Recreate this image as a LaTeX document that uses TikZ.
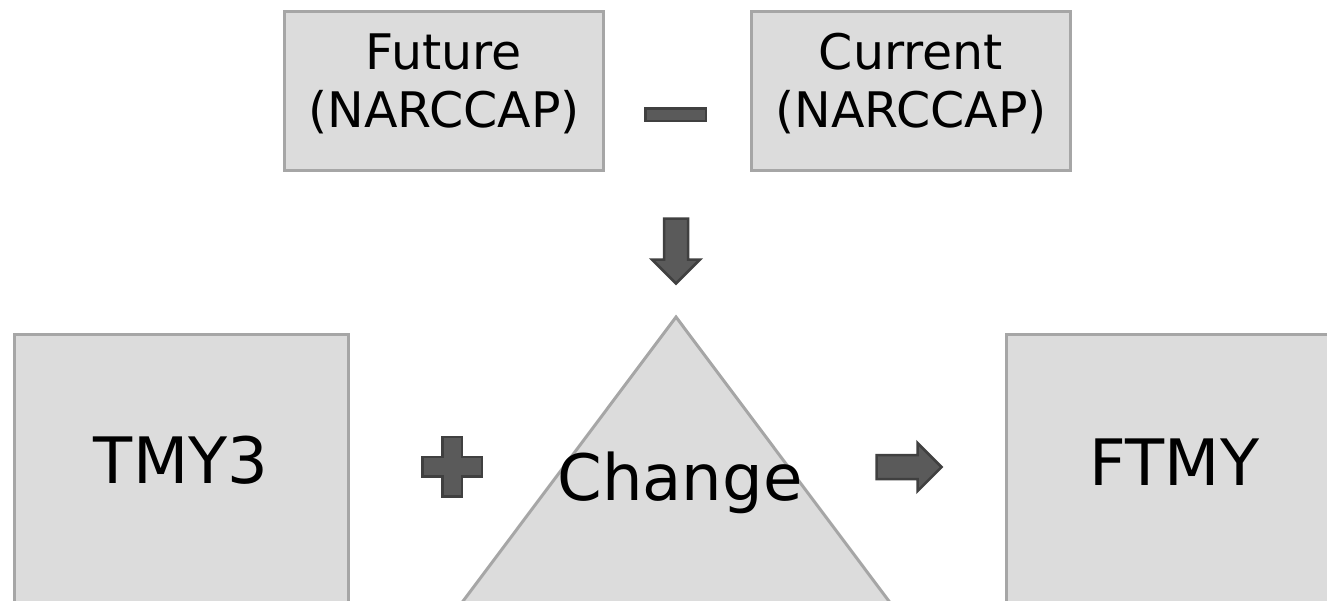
\documentclass[tikz,border=0pt]{standalone}
\usepackage{fontspec}
\setmainfont{DejaVu Sans}
\usepackage{xcolor}
\usepackage{tikz}
\usetikzlibrary{positioning,shapes.arrows}
\definecolor{boxfill}{HTML}{DCDCDC}
\definecolor{boxline}{HTML}{A6A6A6}
\definecolor{signfill}{HTML}{5A5A5A}
\definecolor{signline}{HTML}{404040}

\begin{document}
\begin{tikzpicture}[
  x=1pt,y=-1pt,
  box/.style={draw=boxline,fill=boxfill,line width=3pt,inner sep=0pt,align=center},
  smallbox/.style={box,minimum width=319pt,minimum height=159pt,text depth=21pt,
                   font=\fontsize{49}{58}\selectfont},
  bigbox/.style={box,anchor=north west,minimum height=600pt},
  bigtext/.style={anchor=base,inner sep=0pt,font=\fontsize{64}{76}\selectfont},
  sign/.style={draw=signline,fill=signfill,line width=2.5pt,inner sep=0pt},
  arrowsign/.style={sign,single arrow,inner xsep=0pt,inner ysep=10.75pt,
                    single arrow head extend=12pt,single arrow head indent=0pt,
                    minimum height=65pt}
]
\useasboundingbox (0,0) rectangle (1327,600);
\clip (0,0) rectangle (1327,600);

\node[smallbox] (future) at (444,91) {Future\\(NARCCAP)};
\node[smallbox,right=145pt of future] (current) {Current\\(NARCCAP)};
\node[sign,minimum width=60.5pt,minimum height=12.5pt] (minus) at (675.5,114.5) {};
\node[arrowsign,rotate=-90] (down) at (676,245) {};

\node[bigbox,minimum width=334pt] (tmybox) at (12.5,332.5) {};
\node[bigtext] (tmy) at (181,483) {TMY3};

\coordinate (plus) at (452,466.5);
\draw[sign] (plus) ++(-9.75,-29.75) -- ++(19.5,0) -- ++(0,20) -- ++(20,0) -- ++(0,19.5)
  -- ++(-20,0) -- ++(0,20) -- ++(-19.5,0) -- ++(0,-20) -- ++(-20,0) -- ++(0,-19.5)
  -- ++(20,0) -- cycle;

\coordinate (apex) at (676,317);
\coordinate (baseL) at (314,800);
\coordinate (baseR) at (1038,800);
\draw[draw=boxline,fill=boxfill,line width=3pt] (apex) -- (baseR) -- (baseL) -- cycle;
\node[bigtext] (change) at (680,500) {Change};

\node[arrowsign] (right) at (903,467) {};

\node[bigbox,minimum width=340pt] (ftmybox) at (1004.5,332.5) {};
\node[bigtext] (ftmy) at (1174.5,485) {FTMY};
\end{tikzpicture}
\end{document}
